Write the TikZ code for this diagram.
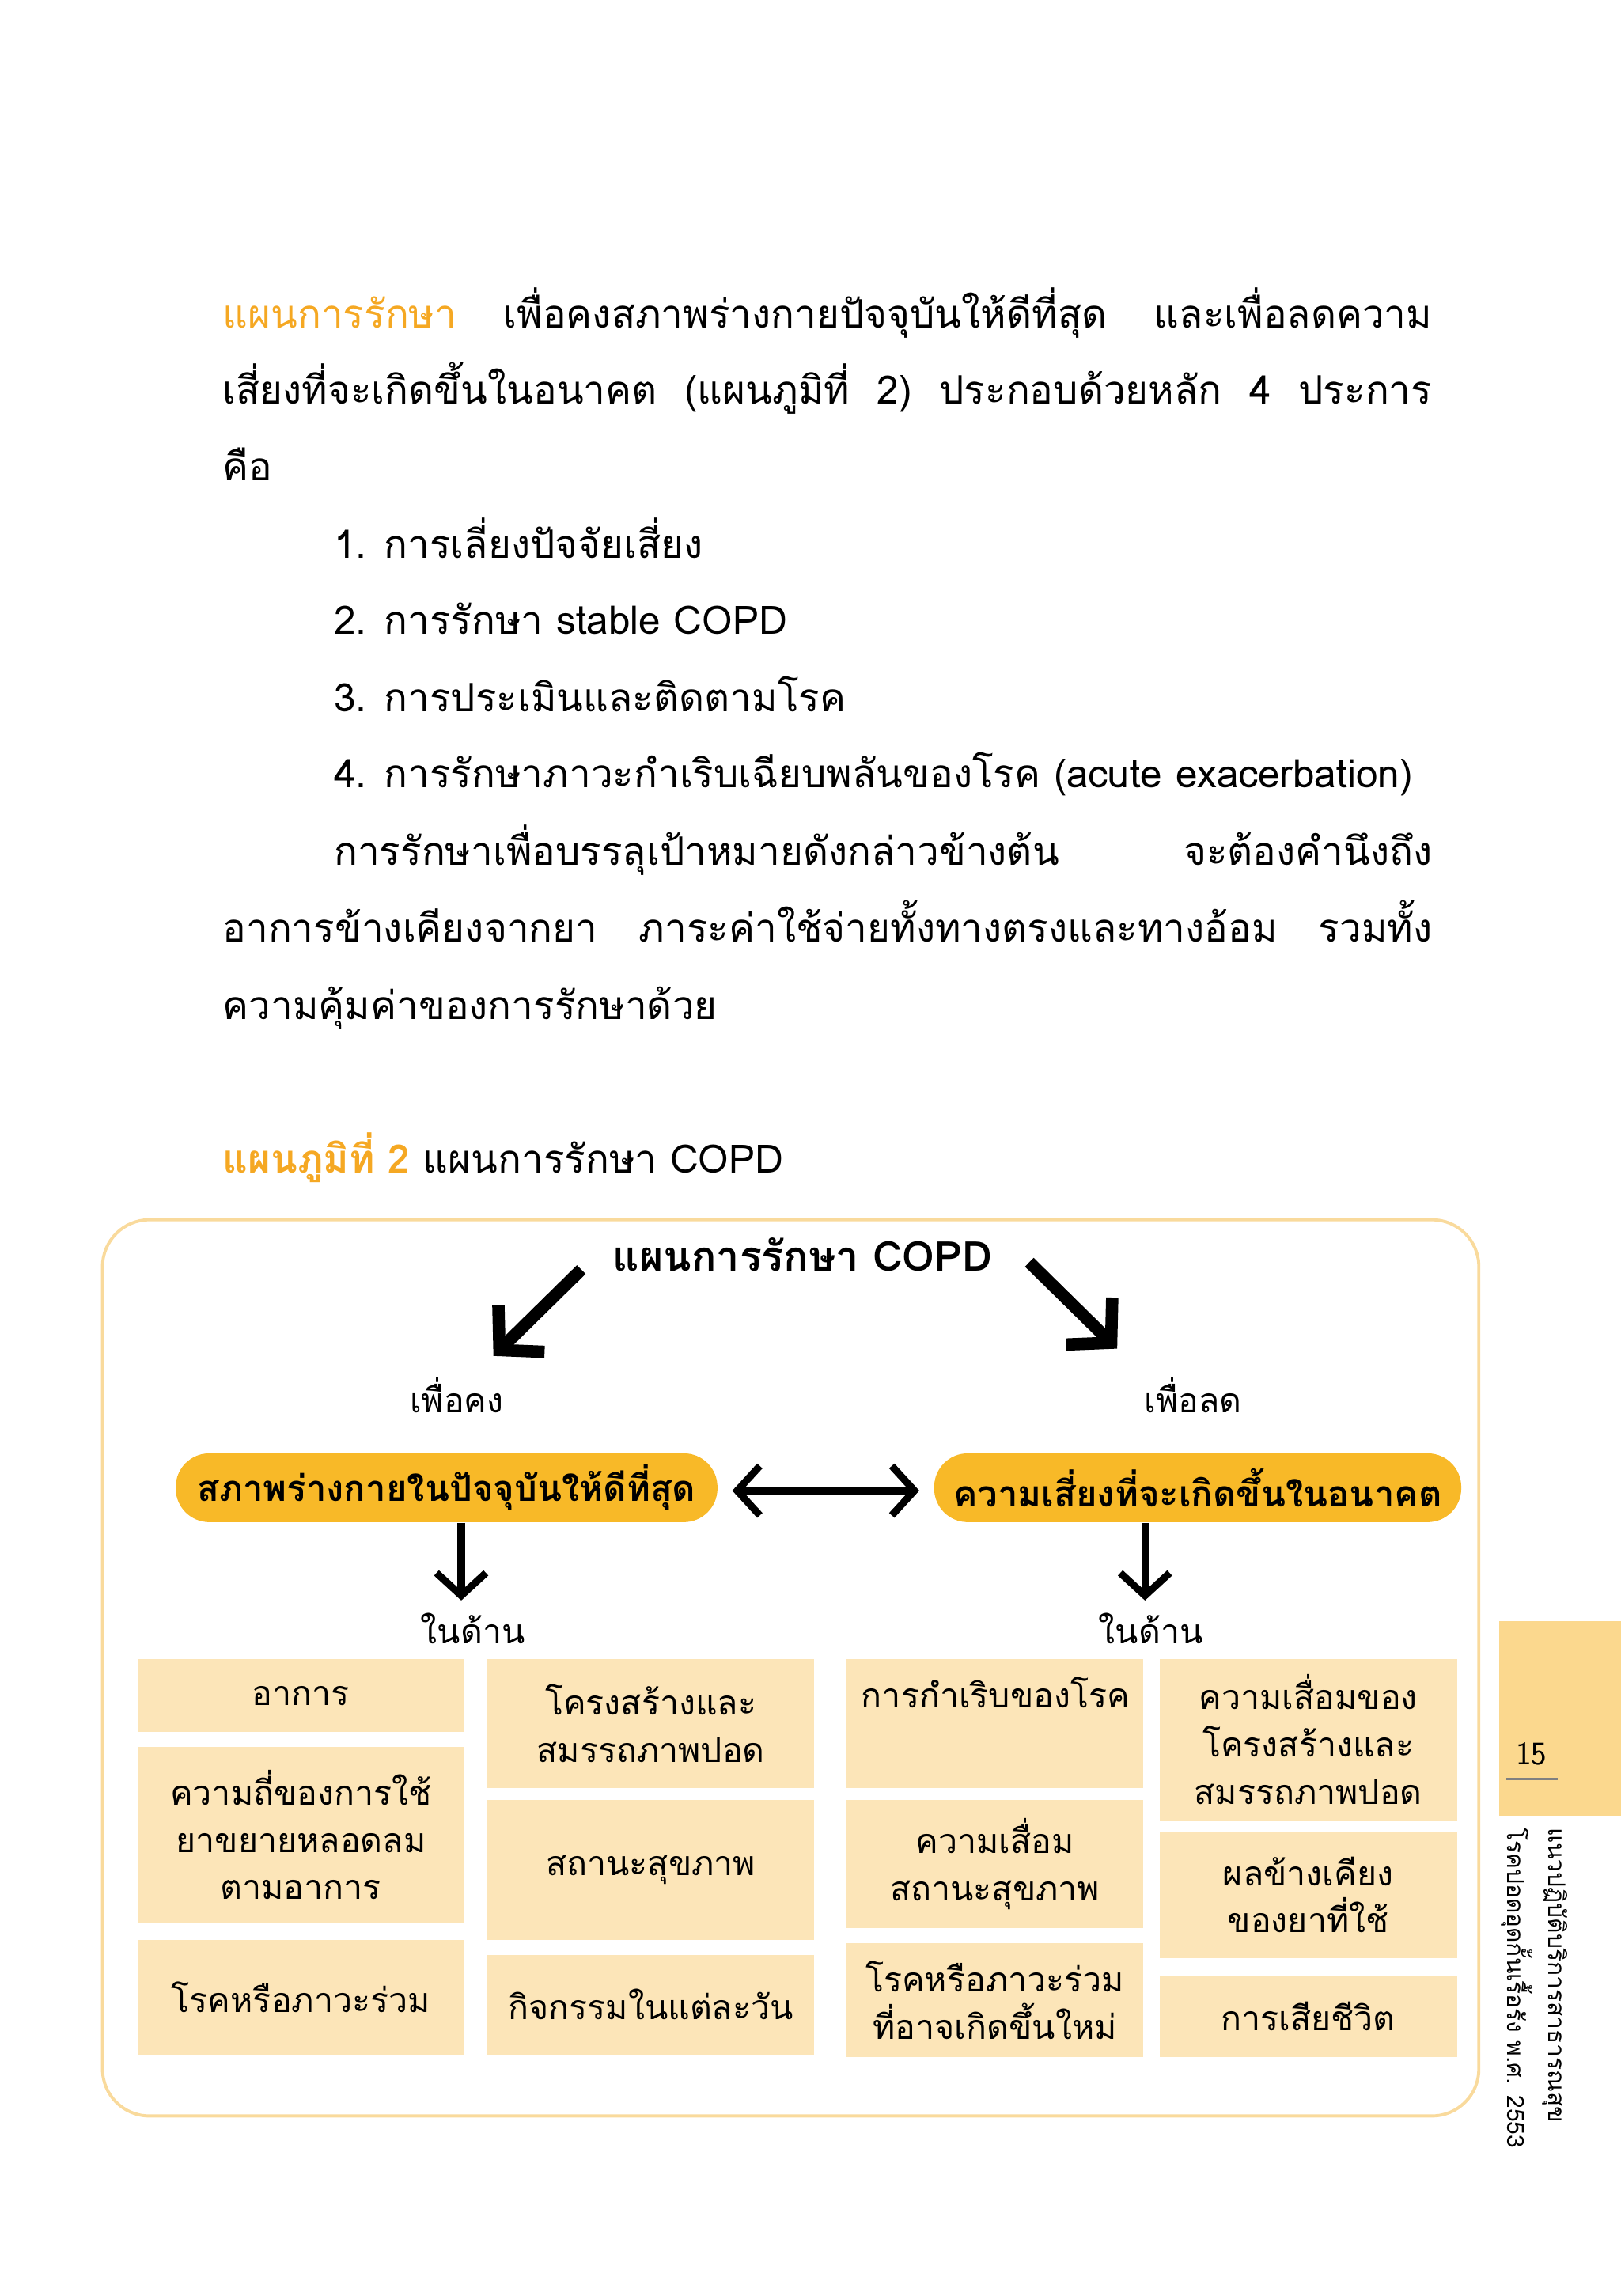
\documentclass[tikz,border=0pt]{standalone}
\usepackage{fontspec}
\setmainfont[Script=Thai]{Loma}
\usetikzlibrary{arrows.meta,calc}
\definecolor{orng}{HTML}{F5A823}
\definecolor{pill}{HTML}{F8B928}
\definecolor{boxf}{HTML}{FCE5B8}
\definecolor{tab}{HTML}{FBD88E}
\definecolor{frm}{HTML}{F9DA9C}
\tikzset{
 body/.style={anchor=base west,inner sep=0pt,font=\fontsize{38}{44}\selectfont},
 ctext/.style={align=center,font=\fontsize{33}{46}\selectfont,inner sep=0pt},
 pillst/.style={fill=pill,rounded corners=1.15cm,inner sep=0pt,font=\bfseries\fontsize{35}{40}\selectfont},
 bigarr/.style={line width=12pt,-{Straight Barb[length=30pt,width=64pt,line width=12pt]}},
 mid/.style={line width=7pt,-{Straight Barb[length=22pt,width=48pt,line width=7pt]}},
 dbl/.style={line width=7pt,{Straight Barb[length=22pt,width=48pt,line width=7pt]}-{Straight Barb[length=22pt,width=48pt,line width=7pt]}},
}
\begin{document}
\begin{tikzpicture}[x=0.05cm,y=-0.05cm]
\useasboundingbox (0,0) rectangle (1107,1568);
% paragraph
\node[body] (p1) at (152,224) {\makebox[826\dimexpr0.05cm\relax][s]{\textcolor{orng}{แผนการรักษา} เพื่อคงสภาพร่างกายปัจจุบันให้ดีที่สุด และเพื่อลดความ}};
\node[body] (p2) at (152,276) {\makebox[826\dimexpr0.05cm\relax][s]{เสี่ยงที่จะเกิดขึ้นในอนาคต (แผนภูมิที่ 2) ประกอบด้วยหลัก 4 ประการ}};
\node[body] (p3) at (152,328) {คือ};
\node[body] (l1) at (228,381) {1. การเลี่ยงปัจจัยเสี่ยง};
\node[body] (l2) at (228,433) {2. การรักษา stable COPD};
\node[body] (l3) at (228,486) {3. การประเมินและติดตามโรค};
\node[body] (l4) at (228,538) {4. การรักษาภาวะกำเริบเฉียบพลันของโรค (acute exacerbation)};
\node[body] (p4) at (228,591) {\makebox[750\dimexpr0.05cm\relax][s]{การรักษาเพื่อบรรลุเป้าหมายดังกล่าวข้างต้น จะต้องคำนึงถึง}};
\node[body] (p5) at (152,643) {\makebox[826\dimexpr0.05cm\relax][s]{อาการข้างเคียงจากยา ภาระค่าใช้จ่ายทั้งทางตรงและทางอ้อม รวมทั้ง}};
\node[body] (p6) at (152,696) {ความคุ้มค่าของการรักษาด้วย};
\node[body] (cap) at (152,801) {\textcolor{orng}{\bfseries แผนภูมิที่ 2} แผนการรักษา COPD};
% frame
\draw[frm,line width=3pt,rounded corners=1.6cm] (70,833) rectangle (1010,1445);
\node[font=\bfseries\fontsize{40}{46}\selectfont,inner sep=0pt] (title) at (548,857) {แผนการรักษา COPD};
\coordinate (a1s) at (397,867); \coordinate (a1e) at (337,926);
\coordinate (a2s) at (703,862); \coordinate (a2e) at (763,921);
\draw[bigarr] (a1s) -- (a1e);
\draw[bigarr] (a2s) -- (a2e);
\node[ctext] (k1) at (312,953) {เพื่อคง};
\node[ctext] (k2) at (815,953) {เพื่อลด};
\node[pillst,minimum width=370*0.05cm,minimum height=47*0.05cm] (pl) at (305,1016) {สภาพร่างกายในปัจจุบันให้ดีที่สุด};
\node[pillst,minimum width=360*0.05cm,minimum height=47*0.05cm] (pr) at (818,1016) {ความเสี่ยงที่จะเกิดขึ้นในอนาคต};
\draw[dbl] ($(pl.east)+(10,2)$) -- ($(pr.west)+(-10,2)$);
\coordinate (dl1) at (315,1040); \coordinate (dl2) at (315,1093);
\coordinate (dr1) at (782,1040); \coordinate (dr2) at (782,1093);
\draw[mid] (dl1) -- (dl2);
\draw[mid] (dr1) -- (dr2);
\node[ctext] (n1) at (323,1112) {ในด้าน};
\node[ctext] (n2) at (786,1112) {ในด้าน};
% boxes
\newcommand{\cellbox}[6]{\fill[boxf] (#1,#2) rectangle (#3,#4); \node[ctext] (#6) at ({(#1+#3)/2},{(#2+#4)/2}) {#5};}
\cellbox{94}{1133}{317}{1183}{อาการ}{c11}
\cellbox{94}{1193}{317}{1313}{ความถี่ของการใช้\\ยาขยายหลอดลม\\ตามอาการ}{c12}
\cellbox{94}{1325}{317}{1403}{โรคหรือภาวะร่วม}{c13}
\cellbox{333}{1133}{556}{1221}{โครงสร้างและ\\สมรรถภาพปอด}{c21}
\cellbox{333}{1229}{556}{1325}{สถานะสุขภาพ}{c22}
\cellbox{333}{1335}{556}{1403}{กิจกรรมในแต่ละวัน}{c23}
\fill[boxf] (578,1133) rectangle (781,1221);
\node[ctext] (c31) at (680,1156) {การกำเริบของโรค};
\cellbox{578}{1229}{781}{1317}{ความเสื่อม\\สถานะสุขภาพ}{c32}
\cellbox{578}{1327}{781}{1405}{โรคหรือภาวะร่วม\\ที่อาจเกิดขึ้นใหม่}{c33}
\cellbox{792}{1133}{995}{1243}{ความเสื่อมของ\\โครงสร้างและ\\สมรรถภาพปอด}{c41}
\cellbox{792}{1251}{995}{1337}{ผลข้างเคียง\\ของยาที่ใช้}{c42}
\cellbox{792}{1349}{995}{1405}{การเสียชีวิต}{c43}
% side tab
\fill[tab] (1024,1107) rectangle (1107,1240);
\node[font=\fontsize{32}{36}\selectfont\sffamily,inner sep=0pt] (pg) at (1046,1198) {15};
\draw[gray,line width=2pt] (1029,1215) -- (1064,1215);
\node[rotate=-90,anchor=west,inner sep=0pt,font=\fontsize{23}{27}\selectfont] (v1) at (1062,1248) {แนวปฏิบัติบริการสาธารณสุข};
\node[rotate=-90,anchor=west,inner sep=0pt,font=\fontsize{23}{27}\selectfont] (v2) at (1036,1248) {โรคปอดอุดกั้นเรื้อรัง พ.ศ. 2553};
\end{tikzpicture}
\end{document}
